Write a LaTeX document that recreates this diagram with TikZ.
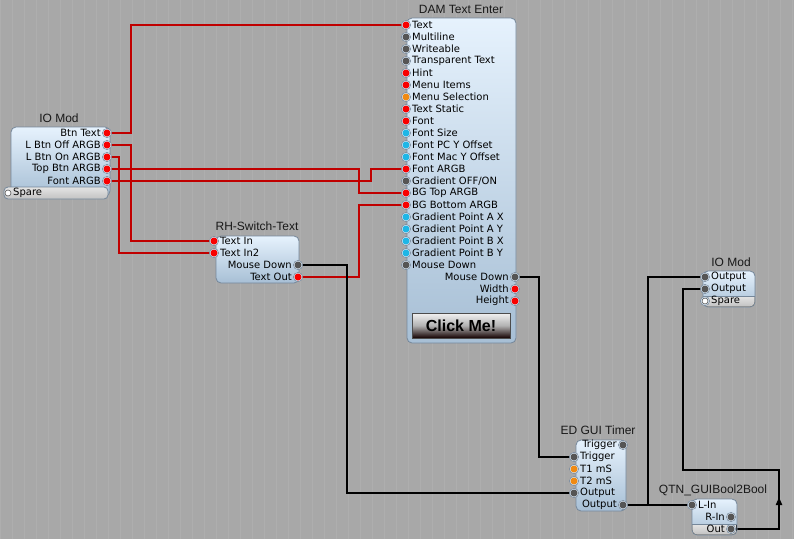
\documentclass[tikz,border=0pt]{standalone}
\usepackage{fontspec}
\setmainfont{Liberation Sans}
\newfontfamily\dvs{DejaVu Sans}
\usetikzlibrary{arrows.meta}
\pgfdeclarelayer{bglayer}
\pgfdeclarelayer{wirelayer}
\pgfsetlayers{bglayer,wirelayer,main}
\definecolor{bgcol}{HTML}{A8A8A8}
\definecolor{gridcol}{HTML}{AEAEAE}
\definecolor{boxtop}{HTML}{E6F2FD}
\definecolor{boxbot}{HTML}{A7BFD5}
\definecolor{boxedge}{HTML}{75879A}
\definecolor{graytop}{HTML}{E4E4E4}
\definecolor{graybot}{HTML}{C2C2C2}
\definecolor{wred}{HTML}{C00000}
\definecolor{dred}{HTML}{F80000}
\definecolor{dgray}{HTML}{555555}
\definecolor{dorange}{HTML}{F08A12}
\definecolor{dcyan}{HTML}{1EB6E6}
\definecolor{bumpcol}{HTML}{DCE9F5}
\tikzset{
  lbl/.style={font=\dvs\fontsize{10}{12}\selectfont, inner sep=0pt, text=black},
  ttl/.style={font=\fontsize{12}{14}\selectfont, inner sep=0pt, text=black!90},
  boxbody/.style={draw=boxedge, line width=0.8pt, rounded corners=5pt, top color=boxtop, bottom color=boxbot},
  graysec/.style={draw=boxedge, line width=0.8pt, top color=graytop, bottom color=graybot},
  bump/.style={fill=bumpcol, draw=boxedge, line width=0.5pt},
  pdot/.style={circle, inner sep=0pt, minimum size=7pt, draw=none},
  rw/.style={draw=wred, line width=2pt},
  bw/.style={draw=black, line width=2pt},
}
\newcommand\myinport[5]{%
  \fill[bump] (#2,#3) circle[radius=4.6];
  \node[pdot,fill=#4] (#1) at (#2,#3) {};
  \node[lbl,anchor=west] at (#2+6,#3) {#5};}
\newcommand\myoutport[5]{%
  \fill[bump] (#2,#3) circle[radius=4.6];
  \node[pdot,fill=#4] (#1) at (#2,#3) {};
  \node[lbl,anchor=east] at (#2-6,#3) {#5};}
\begin{document}
\begin{tikzpicture}[x=1pt,y=-1pt]
\useasboundingbox (0,0) rectangle (794,539);
\begin{pgfonlayer}{bglayer}
  \fill[bgcol] (0,0) rectangle (794,539);
  \draw[gridcol, line width=0.7pt, step=12] (0,0) grid (794,539);
\end{pgfonlayer}

% ---------- IO Mod (left)
\node[ttl] (io1-title) at (59,118) {IO Mod};
\draw[boxbody] (11,127) rectangle (110,196);
\draw[graysec, rounded corners=4pt] (4,187) rectangle (108,199);
\myoutport{io1-bt}{107}{133}{dred}{Btn Text}
\myoutport{io1-off}{107}{145}{dred}{L Btn Off ARGB}
\myoutport{io1-on}{107}{157}{dred}{L Btn On ARGB}
\myoutport{io1-top}{107}{169}{dred}{Top Btn ARGB}
\myoutport{io1-font}{107}{181}{dred}{Font ARGB}
\node[pdot, fill=white, draw=dgray, line width=0.6pt, minimum size=6pt] (io1-spare) at (8,193) {};
\node[lbl,anchor=west] at (13,193) {Spare};

% ---------- DAM Text Enter
\node[ttl] (dam-title) at (461,9) {DAM Text Enter};
\draw[boxbody] (407,18) rectangle (516,343);
\myinport{dam-text}{406}{25}{dred}{Text}
\myinport{dam-ml}{406}{37}{dgray}{Multiline}
\myinport{dam-wr}{406}{49}{dgray}{Writeable}
\myinport{dam-tt}{406}{61}{dgray}{Transparent Text}
\myinport{dam-hint}{406}{73}{dred}{Hint}
\myinport{dam-mi}{406}{85}{dred}{Menu Items}
\myinport{dam-ms}{406}{97}{dorange}{Menu Selection}
\myinport{dam-ts}{406}{109}{dred}{Text Static}
\myinport{dam-font}{406}{121}{dred}{Font}
\myinport{dam-fs}{406}{133}{dcyan}{Font Size}
\myinport{dam-fpc}{406}{145}{dcyan}{Font PC Y Offset}
\myinport{dam-fmac}{406}{157}{dcyan}{Font Mac Y Offset}
\myinport{dam-fargb}{406}{169}{dred}{Font ARGB}
\myinport{dam-grad}{406}{181}{dgray}{Gradient OFF/ON}
\myinport{dam-bgtop}{406}{193}{dred}{BG Top ARGB}
\myinport{dam-bgbot}{406}{205}{dred}{BG Bottom ARGB}
\myinport{dam-gax}{406}{217}{dcyan}{Gradient Point A X}
\myinport{dam-gay}{406}{229}{dcyan}{Gradient Point A Y}
\myinport{dam-gbx}{406}{241}{dcyan}{Gradient Point B X}
\myinport{dam-gby}{406}{253}{dcyan}{Gradient Point B Y}
\myinport{dam-mdin}{406}{265}{dgray}{Mouse Down}
\myoutport{dam-md}{515}{277}{dgray}{Mouse Down}
\myoutport{dam-w}{515}{289}{dred}{Width}
\myoutport{dam-h}{515}{301}{dred}{Height}
\draw[draw=black!70, line width=0.6pt, top color=white!95!black, bottom color=black!75!red!30!black, middle color=black!30] (412,313) rectangle (510,338);
\node[font=\bfseries\fontsize{16}{18}\selectfont, text=black, inner sep=0pt] (click) at (461,325.5) {Click Me!};

% ---------- RH-Switch-Text
\node[ttl] (rh-title) at (257,226) {RH-Switch-Text};
\draw[boxbody] (216,236) rectangle (299,283);
\myinport{rh-in}{214}{241}{dred}{Text In}
\myinport{rh-in2}{214}{253}{dred}{Text In2}
\myoutport{rh-md}{298}{265}{dgray}{Mouse Down}
\myoutport{rh-out}{298}{277}{dred}{Text Out}

% ---------- ED GUI Timer
\node[ttl] (tm-title) at (598,430) {ED GUI Timer};
\draw[boxbody] (576,440) rectangle (626,511);
\myoutport{tm-trigout}{623}{445}{dgray}{Trigger}
\myinport{tm-trig}{574}{457}{dgray}{Trigger}
\myinport{tm-t1}{574}{469}{dorange}{T1 mS}
\myinport{tm-t2}{574}{481}{dorange}{T2 mS}
\myinport{tm-outin}{574}{493}{dgray}{Output}
\myoutport{tm-out}{623}{505}{dgray}{Output}

% ---------- IO Mod (right)
\node[ttl] (io2-title) at (731,262) {IO Mod};
\draw[boxbody] (703,271) rectangle (755,307);
\fill[top color=graytop, bottom color=graybot] (703.4,296) -- (754.6,296) [rounded corners=4.6pt] -- (754.6,306.6) -- (703.4,306.6) [sharp corners] -- cycle;
\draw[boxedge, line width=0.8pt] (703,296) -- (755,296);
\myinport{io2-o1}{705}{277}{dgray}{Output}
\myinport{io2-o2}{705}{289}{dgray}{Output}
\fill[bump] (705,301) circle[radius=4.6];
\node[pdot, fill=white, draw=dgray, line width=0.6pt, minimum size=6pt] (io2-spare) at (705,301) {};
\node[lbl,anchor=west] at (711,301) {Spare};

% ---------- QTN_GUIBool2Bool
\node[ttl] (qtn-title) at (713,490) {QTN\_GUIBool2Bool};
\draw[boxbody] (692,499) rectangle (737,535);
\fill[top color=graytop, bottom color=graybot] (692.4,524) -- (736.6,524) [rounded corners=4.6pt] -- (736.6,534.6) -- (692.4,534.6) [sharp corners] -- cycle;
\draw[boxedge, line width=0.8pt] (692,524) -- (737,524);
\myinport{qtn-lin}{692}{505}{dgray}{L-In}
\myoutport{qtn-rin}{731}{517}{dgray}{R-In}
\myoutport{qtn-out}{731}{529}{dgray}{Out}

% ---------- wires
\begin{pgfonlayer}{wirelayer}
  \draw[rw] (io1-bt.center) -- ++(24,0) |- (dam-text.center);
  \draw[rw] (io1-off.center) -- ++(24,0) |- (rh-in.center);
  \draw[rw] (io1-on.center) -- ++(12,0) |- (rh-in2.center);
  \draw[rw] (io1-top.center) -- ++(252,0) |- (dam-bgtop.center);
  \draw[rw] (io1-font.center) -- ++(264,0) |- (dam-fargb.center);
  \draw[rw] (rh-out.center) -- ++(61,0) |- (dam-bgbot.center);
  \draw[bw] (rh-md.center) -- ++(49,0) |- (tm-outin.center);
  \draw[bw] (dam-md.center) -- ++(24,0) |- (tm-trig.center);
  \draw[bw] (tm-out.center) -- ++(25,0) |- (io2-o1.center);
  \draw[bw] (tm-out.center) -- (qtn-lin.center);
  \draw[bw] (qtn-out.center) -- ++(48,0) -- ++(0,-59) -- ++(-96,0) |- (io2-o2.center);
  \path (qtn-out.center) ++(48,0) coordinate (arr-a);
  \draw[bw, -{Triangle[width=6pt,length=8pt]}] (arr-a) -- ++(0,-32);
\end{pgfonlayer}
\end{tikzpicture}
\end{document}
